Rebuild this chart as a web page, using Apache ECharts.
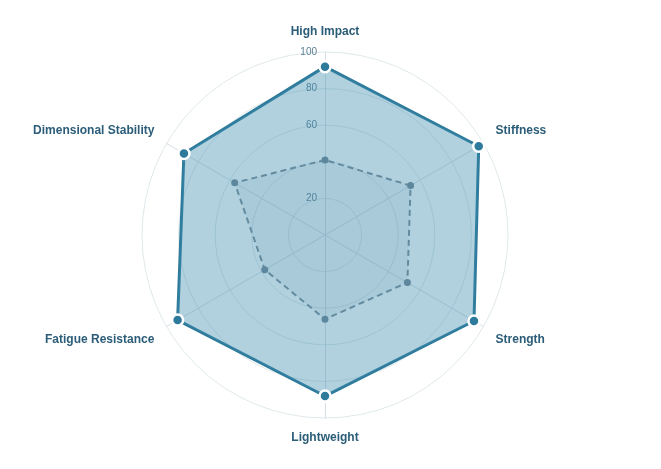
<!DOCTYPE html>
<html><head><meta charset="utf-8">
<script src="https://cdn.jsdelivr.net/npm/echarts@6/dist/echarts.min.js"></script>
<style>html,body{margin:0;padding:0;background:#fff}#c{width:661px;height:469px}</style>
</head><body><div id="c"></div>
<script>
// clockwise order from top
const indicators = ['High Impact', 'Stiffness', 'Strength', 'Lightweight', 'Fatigue Resistance', 'Dimensional Stability'];
const seriesA = [92, 97, 94, 88, 93, 89];
const seriesB = [41, 54, 52, 46, 38, 57];
const tickLabels = ['', '20', '', '60', '80', '100'];

// ECharts radar runs counter-clockwise; reorder so the list reads clockwise
const order = [0, 5, 4, 3, 2, 1];
const ind = order.map(i => indicators[i]);
const valsA = order.map(i => seriesA[i]);
const valsB = order.map(i => seriesB[i]);
const upper = ['Stiffness', 'Dimensional Stability'];
const lower = ['Strength', 'Fatigue Resistance'];

const nameFont = { color: '#2b5d78', fontSize: 12, fontWeight: 'bold', fontFamily: 'Liberation Sans, Arial, sans-serif' };

const chart = echarts.init(document.getElementById('c'));
chart.setOption({
  animation: false,
  radar: {
    center: [325, 235],
    radius: 183,
    shape: 'circle',
    startAngle: 90,
    splitNumber: 5,
    indicator: ind.map((n, k) => ({ name: n, min: 0, max: 100, axisLabel: { show: k === 0 } })),
    axisName: Object.assign({}, nameFont, {
      formatter: (n) => upper.includes(n) ? '{up|' + n + '}' : lower.includes(n) ? '{dn|' + n + '}' : n,
      rich: {
        up: Object.assign({}, nameFont, { padding: [0, 0, 12, 0] }),
        dn: Object.assign({}, nameFont, { padding: [12, 0, 0, 0] })
      }
    }),
    nameGap: 14,
    splitArea: { show: false },
    splitLine: { lineStyle: { color: '#dfe8eb', width: 1 } },
    axisLine: { show: true, lineStyle: { color: '#d6e0e4', width: 1 } },
    axisLabel: {
      color: '#5a7e93', fontSize: 10, fontFamily: 'Liberation Sans, Arial, sans-serif',
      formatter: (v) => tickLabels[Math.round(v / 20)] || '', showMinLabel: false
    },
    axisTick: { show: false }
  },
  series: [{
    type: 'radar',
    z: 2,
    data: [{
      value: valsA,
      smooth: 0.2,
      symbol: 'circle', symbolSize: 11,
      lineStyle: { color: '#2e7a9b', width: 3 },
      itemStyle: { color: '#2e7a9b', borderColor: '#fff', borderWidth: 2.5 },
      areaStyle: { color: 'rgba(60,140,175,0.4)', opacity: 1 }
    }]
  }, {
    type: 'radar',
    z: 3,
    data: [{
      value: valsB,
      symbol: 'circle', symbolSize: 7,
      lineStyle: { color: '#648ca0', width: 2, type: [6, 4] },
      itemStyle: { color: '#5d879c' },
      areaStyle: { color: 'rgba(100,140,160,0.1)', opacity: 1 }
    }]
  }]
});
</script></body></html>
